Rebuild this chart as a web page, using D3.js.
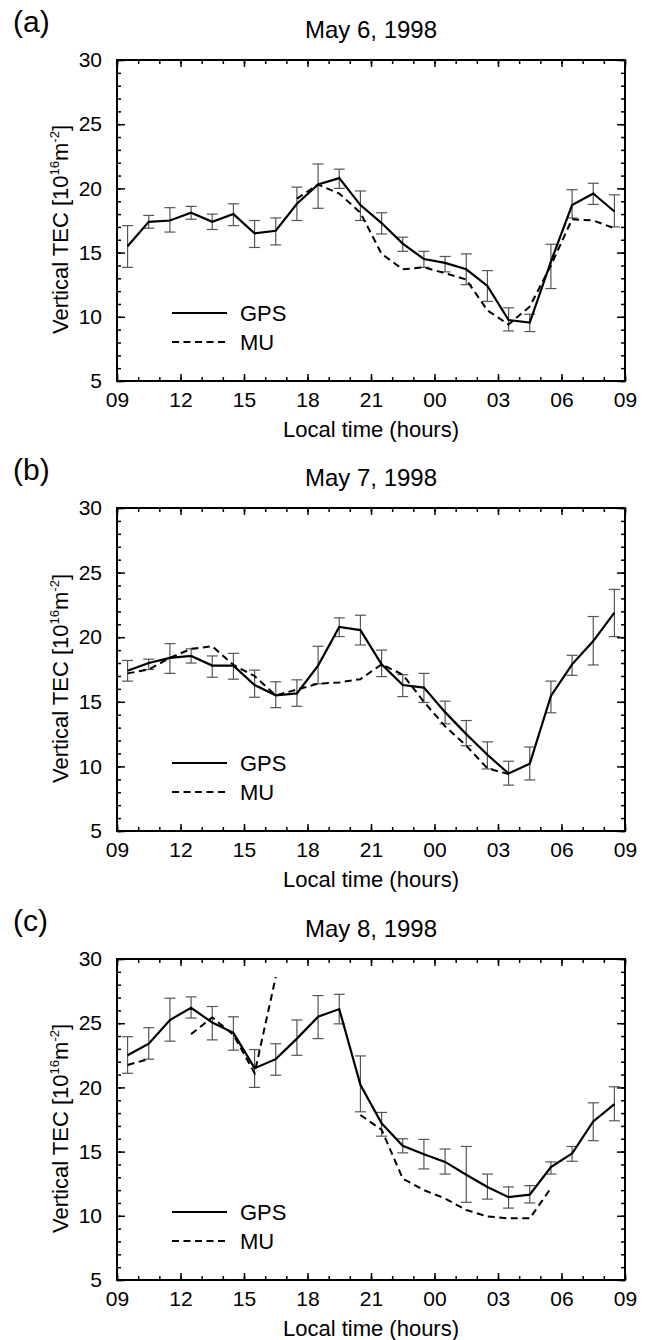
<!DOCTYPE html>
<html>
<head>
<meta charset="utf-8">
<script src="https://cdn.jsdelivr.net/npm/d3@7"></script>
<style>
  html, body { margin: 0; padding: 0; background: #fff; }
  svg { display: block; }
  text { font-family: "Liberation Sans", Arial, Helvetica, sans-serif; fill: #000; }
</style>
</head>
<body>
<svg id="chart" width="650" height="1340"></svg>
<script>
// ---- data ----
const hours = [9.5,10.5,11.5,12.5,13.5,14.5,15.5,16.5,17.5,18.5,19.5,20.5,21.5,22.5,23.5,24.5,25.5,26.5,27.5,28.5,29.5,30.5,31.5,32.5];
const xTickValues = [9,12,15,18,21,24,27,30,33];
const xTickLabels = ["09","12","15","18","21","00","03","06","09"];
const yTickValues = [5,10,15,20,25,30];
const panelLetters = ["(a)","(b)","(c)"];
const panelTitles = ["May 6, 1998","May 7, 1998","May 8, 1998"];
const seriesNames = ["GPS","MU"];

const gpsA = [15.5,17.4,17.5,18.1,17.4,18.0,16.5,16.7,18.8,20.3,20.8,18.7,17.3,15.7,14.5,14.2,13.7,12.4,9.75,9.55,14.3,18.7,19.6,18.2];
const hiA  = [17.1,17.9,18.5,18.6,18.0,18.8,17.5,17.7,20.1,21.9,21.5,19.8,18.1,16.2,15.1,14.7,14.9,13.6,10.7,10.2,15.65,19.9,20.4,19.5];
const loA  = [13.85,16.9,16.6,17.6,16.8,17.1,15.4,15.6,17.5,18.45,20.0,17.5,16.45,15.1,13.85,13.5,12.5,11.2,8.9,8.85,12.2,17.7,18.75,17.0];
const muA  = [null,null,null,null,null,null,null,null,19.2,20.3,19.6,18.1,14.9,13.7,13.85,13.4,12.9,10.5,9.4,10.8,14.0,17.6,17.5,16.9];

const gpsB = [17.4,18.0,18.4,18.55,17.8,17.8,16.3,15.5,15.65,17.8,20.8,20.55,17.9,16.3,16.1,14.2,12.5,10.9,9.45,10.2,15.45,17.9,19.7,21.9];
const hiB  = [18.2,18.3,19.5,19.1,18.55,18.75,17.45,16.55,16.7,19.3,21.5,21.7,19.0,17.1,17.2,15.05,13.55,11.9,10.4,11.5,16.6,18.6,21.6,23.7];
const loB  = [16.6,17.5,17.2,18.0,16.9,16.75,15.35,14.55,14.65,16.4,20.05,19.4,16.95,15.4,14.95,13.3,11.6,9.8,8.55,8.95,14.15,17.05,17.85,20.05];
const muB  = [17.2,17.5,18.4,19.1,19.3,17.85,17.0,15.5,15.95,16.4,16.5,16.75,17.9,17.1,15.0,13.1,11.6,9.85,9.4,null,null,null,null,null];

const gpsC = [22.5,23.4,25.25,26.2,25.05,24.25,21.5,22.2,23.8,25.5,26.1,20.2,17.2,15.45,14.8,14.2,13.2,12.25,11.45,11.65,13.8,14.85,17.35,18.7];
const hiC  = [23.95,24.65,26.95,27.05,26.3,25.5,22.95,23.4,25.25,27.15,27.25,22.45,18.05,16.0,15.95,15.2,15.4,13.25,12.25,12.35,14.2,15.4,18.8,20.05];
const loC  = [21.1,22.2,23.6,25.4,23.7,22.9,20.0,20.95,22.5,23.8,24.95,18.1,16.2,14.9,13.65,13.25,11.05,11.3,10.6,11.0,13.25,14.25,15.85,17.4];
const muC  = [21.75,22.2,null,24.15,25.45,24.1,21.1,28.6,null,null,null,17.85,16.7,12.9,12.0,11.35,10.45,9.95,9.8,9.8,12.15,null,null,null];

// ---- layout ----
const panels = [
  {top: 60,  bottom: 381, gps: gpsA, hi: hiA, lo: loA, mu: muA},
  {top: 508, bottom: 831, gps: gpsB, hi: hiB, lo: loB, mu: muB},
  {top: 959, bottom: 1280, gps: gpsC, hi: hiC, lo: loC, mu: muC}
];
const left = 117, right = 625;
const svg = d3.select("#chart");
const x = d3.scaleLinear().domain([9, 33]).range([left, right]);
const fmtX = d => xTickLabels[xTickValues.indexOf(d)];

panels.forEach((p, pi) => {
  const y = d3.scaleLinear().domain([5, 30]).range([p.bottom, p.top]);
  const g = svg.append("g");

  // axes (inward ticks on all four sides)
  const styleAxis = sel => {
    sel.select(".domain").remove();
    sel.selectAll(".tick line").attr("stroke", "#000").attr("stroke-width", 1.5);
    sel.selectAll(".tick text").attr("font-size", 21).attr("fill", "#000")
       .attr("font-family", '"Liberation Sans", Arial, sans-serif');
  };
  g.append("g").attr("transform", `translate(0,${p.bottom})`)
    .call(d3.axisBottom(x).tickValues(xTickValues).tickSize(-7).tickPadding(11).tickFormat(fmtX)).call(styleAxis);
  g.append("g").attr("transform", `translate(0,${p.bottom})`)
    .call(d3.axisBottom(x).tickValues(d3.range(9, 34, 1)).tickSize(-4).tickFormat("")).call(styleAxis);
  g.append("g").attr("transform", `translate(0,${p.top})`)
    .call(d3.axisTop(x).tickValues(xTickValues).tickSize(-7).tickFormat("")).call(styleAxis);
  g.append("g").attr("transform", `translate(0,${p.top})`)
    .call(d3.axisTop(x).tickValues(d3.range(9, 34, 1)).tickSize(-4).tickFormat("")).call(styleAxis);
  g.append("g").attr("transform", `translate(${left},0)`)
    .call(d3.axisLeft(y).tickValues(yTickValues).tickSize(-8).tickPadding(15).tickFormat(d3.format("d"))).call(styleAxis);
  g.append("g").attr("transform", `translate(${left},0)`)
    .call(d3.axisLeft(y).tickValues(d3.range(5, 31, 1)).tickSize(-4).tickFormat("")).call(styleAxis);
  g.append("g").attr("transform", `translate(${right},0)`)
    .call(d3.axisRight(y).tickValues(yTickValues).tickSize(-8).tickFormat("")).call(styleAxis);
  g.append("g").attr("transform", `translate(${right},0)`)
    .call(d3.axisRight(y).tickValues(d3.range(5, 31, 1)).tickSize(-4).tickFormat("")).call(styleAxis);

  // frame
  g.append("rect").attr("x", left).attr("y", p.top)
    .attr("width", right - left).attr("height", p.bottom - p.top)
    .attr("fill", "none").attr("stroke", "#000").attr("stroke-width", 2);

  // error bars
  const eb = g.append("g").attr("stroke", "#555").attr("stroke-width", 1.2).attr("fill", "none");
  hours.forEach((h, i) => {
    const cx = x(h);
    eb.append("line").attr("x1", cx).attr("x2", cx).attr("y1", y(p.lo[i])).attr("y2", y(p.hi[i]));
    eb.append("line").attr("x1", cx - 5.5).attr("x2", cx + 5.5).attr("y1", y(p.lo[i])).attr("y2", y(p.lo[i]));
    eb.append("line").attr("x1", cx - 5.5).attr("x2", cx + 5.5).attr("y1", y(p.hi[i])).attr("y2", y(p.hi[i]));
  });

  // lines
  const line = d3.line().defined(d => d[1] != null).x(d => x(d[0])).y(d => y(d[1]));
  g.append("path").datum(hours.map((h, i) => [h, p.mu[i]]))
    .attr("d", line).attr("fill", "none").attr("stroke", "#000")
    .attr("stroke-width", 2).attr("stroke-dasharray", "7,4.5");
  g.append("path").datum(hours.map((h, i) => [h, p.gps[i]]))
    .attr("d", line).attr("fill", "none").attr("stroke", "#000").attr("stroke-width", 2.2)
    .attr("stroke-linejoin", "miter");

  // legend
  const ly = [p.bottom - 68, p.bottom - 39];
  seriesNames.forEach((name, k) => {
    g.append("line").attr("x1", left + 55).attr("x2", left + 110)
      .attr("y1", ly[k]).attr("y2", ly[k]).attr("stroke", "#000").attr("stroke-width", 2)
      .attr("stroke-dasharray", k === 1 ? "7,4.5" : null);
    g.append("text").attr("x", left + 123).attr("y", ly[k]).attr("dy", "0.36em")
      .attr("font-size", 22).text(name);
  });

  // titles and labels
  g.append("text").attr("x", (left + right) / 2).attr("y", p.top - 22)
    .attr("text-anchor", "middle").attr("font-size", 24).text(panelTitles[pi]);
  g.append("text").attr("x", 13).attr("y", p.top - 28)
    .attr("font-family", '"Liberation Serif", "Times New Roman", serif')
    .attr("font-size", 30).text(panelLetters[pi]);
  g.append("text").attr("x", (left + right) / 2).attr("y", p.bottom + 56)
    .attr("text-anchor", "middle").attr("font-size", 22).text("Local time (hours)");

  const yl = g.append("text")
    .attr("transform", `translate(68,${(p.top + p.bottom) / 2 + 9}) rotate(-90)`)
    .attr("text-anchor", "middle").attr("font-size", 22);
  yl.append("tspan").text("Vertical TEC [10");
  yl.append("tspan").attr("dy", -9).attr("font-size", 13).text("16");
  yl.append("tspan").attr("dy", 9).text("m");
  yl.append("tspan").attr("dy", -9).attr("font-size", 13).text("-2");
  yl.append("tspan").attr("dy", 9).text("]");
});
</script>
</body>
</html>
